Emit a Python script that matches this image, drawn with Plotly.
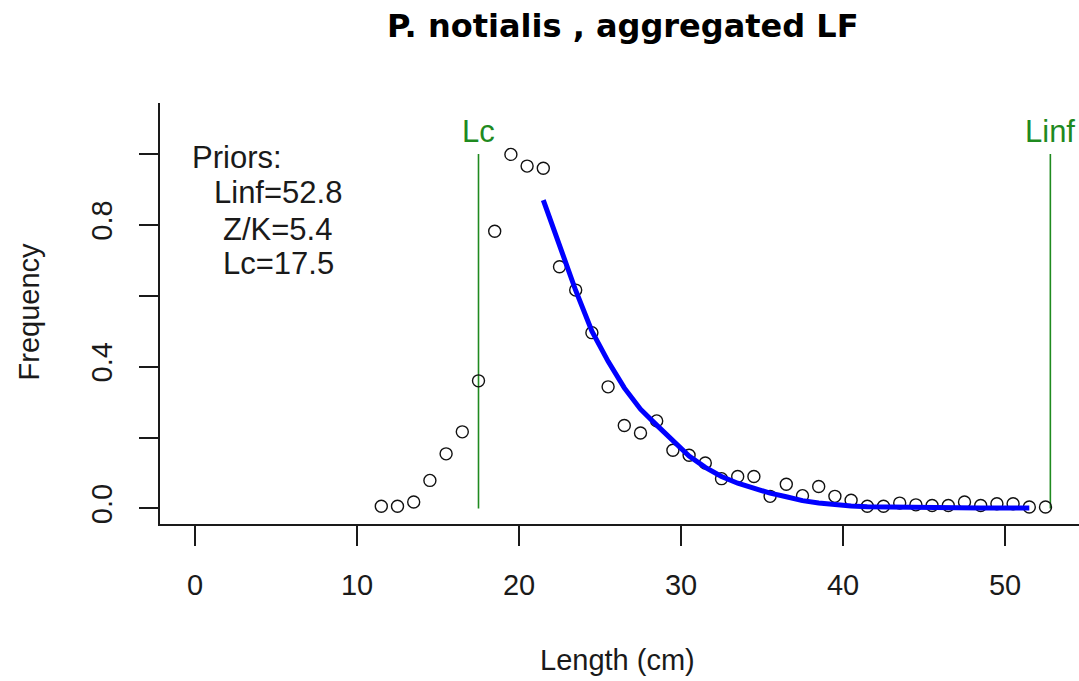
import plotly.graph_objects as go

# ---- data ----
length_mid = [11.5, 12.5, 13.5, 14.5, 15.5, 16.5, 17.5, 18.5, 19.5, 20.5,
              21.5, 22.5, 23.5, 24.5, 25.5, 26.5, 27.5, 28.5, 29.5, 30.5,
              31.5, 32.5, 33.5, 34.5, 35.5, 36.5, 37.5, 38.5, 39.5, 40.5,
              41.5, 42.5, 43.5, 44.5, 45.5, 46.5, 47.5, 48.5, 49.5, 50.5,
              51.5, 52.5]
frequency = [0.006, 0.006, 0.018, 0.079, 0.154, 0.216, 0.360, 0.782, 0.999, 0.966,
             0.960, 0.682, 0.616, 0.496, 0.343, 0.234, 0.213, 0.247, 0.164, 0.150,
             0.128, 0.084, 0.090, 0.090, 0.034, 0.068, 0.036, 0.062, 0.034, 0.023,
             0.006, 0.006, 0.015, 0.010, 0.008, 0.008, 0.018, 0.008, 0.013, 0.013,
             0.004, 0.004]

fit_length = [21.5, 22.5, 23.5, 24.5, 25.5, 26.5, 27.5, 28.5, 29.5, 30.5,
              31.5, 32.5, 33.5, 34.5, 35.5, 36.5, 37.5, 38.5, 39.5, 40.5,
              41.5, 42.5, 43.5, 44.5, 45.5, 46.5, 47.5, 48.5, 49.5, 50.5, 51.5]
fit_freq = [0.870, 0.740, 0.615, 0.500, 0.415, 0.340, 0.280, 0.235, 0.190, 0.148,
            0.116, 0.090, 0.071, 0.056, 0.043, 0.033, 0.022, 0.015, 0.010, 0.007,
            0.005, 0.004, 0.003, 0.002, 0.002, 0.002, 0.001, 0.001, 0.001, 0.001, 0.001]

Linf = 52.8
ZK = 5.4
Lc = 17.5
ref_line_y = [0, 1.0]

x_ticks = [0, 10, 20, 30, 40, 50]
y_ticks = [0, 0.2, 0.4, 0.6, 0.8, 1.0]
y_tick_text = ["0.0", "", "0.4", "", "0.8", ""]

# ---- layout geometry ----
W, H = 1079, 681
ML, MR, MT, MB = 160, 0, 103, 157
FONT = "Liberation Sans, Arial, sans-serif"
GREEN = "#1f8a1f"
INK = "#1a1a1a"


def px_x(px):
    return (px - ML) / (W - ML - MR)


def px_y(py):
    return (H - MB - py) / (H - MT - MB)


fig = go.Figure()

fig.add_trace(go.Scatter(x=[Lc, Lc], y=ref_line_y, mode="lines",
                         line=dict(color=GREEN, width=1.6), showlegend=False))
fig.add_trace(go.Scatter(x=[Linf, Linf], y=ref_line_y, mode="lines",
                         line=dict(color=GREEN, width=1.6), showlegend=False))
fig.add_trace(go.Scatter(x=length_mid, y=frequency, mode="markers",
                         marker=dict(symbol="circle-open", size=12, color="#111111",
                                     line=dict(width=1.4, color="#111111")),
                         showlegend=False))
fig.add_trace(go.Scatter(x=fit_length, y=fit_freq, mode="lines",
                         line=dict(color="#0000ff", width=5), showlegend=False))

ann = []
ann.append(dict(text="<b>P. notialis , aggregated LF</b>", x=px_x(622.7), y=px_y(26),
                xref="paper", yref="paper", showarrow=False,
                font=dict(family="DejaVu Sans, sans-serif", size=32, color="#000000"),
                xanchor="center", yanchor="middle"))
ann.append(dict(text="Frequency", x=px_x(28.7), y=px_y(311.7), xref="paper", yref="paper",
                showarrow=False, textangle=-90, font=dict(family=FONT, size=29, color=INK),
                xanchor="center", yanchor="middle"))
ann.append(dict(text="Length (cm)", x=px_x(617), y=px_y(660), xref="paper", yref="paper",
                showarrow=False, font=dict(family=FONT, size=29, color=INK),
                xanchor="center", yanchor="middle"))
ann.append(dict(text="Lc", x=Lc, y=px_y(131), xref="x", yref="paper", showarrow=False,
                font=dict(family=FONT, size=31, color=GREEN), xanchor="center", yanchor="middle"))
ann.append(dict(text="Linf", x=Linf, y=px_y(131), xref="x", yref="paper", showarrow=False,
                font=dict(family=FONT, size=31, color=GREEN), xanchor="center", yanchor="middle"))
for txt, cx, cy in [("Priors:", 236.7, 157), (f"Linf={Linf}", 278, 192.5),
                    (f"Z/K={ZK}", 277, 229), (f"Lc={Lc}", 278, 263)]:
    ann.append(dict(text=txt, x=px_x(cx), y=px_y(cy), xref="paper", yref="paper",
                    showarrow=False, font=dict(family=FONT, size=31, color=INK),
                    xanchor="center", yanchor="middle"))

fig.update_layout(
    width=W, height=H,
    margin=dict(l=ML, r=MR, t=MT, b=MB, pad=0),
    paper_bgcolor="white", plot_bgcolor="white",
    font=dict(family=FONT, size=29, color=INK),
    annotations=ann,
    showlegend=False,
    xaxis=dict(range=[-(195 - ML) / 16.2, (W - 195) / 16.2], tickvals=x_ticks,
               ticks="outside", ticklen=20, tickwidth=1.5, tickcolor=INK,
               showline=True, linecolor=INK, linewidth=1.5,
               showgrid=False, zeroline=False, ticklabelstandoff=14,
               tickfont=dict(family=FONT, size=29, color=INK)),
    yaxis=dict(range=[-0.044, 1.144], tickvals=y_ticks, ticktext=y_tick_text,
               ticks="outside", ticklen=19, tickwidth=1.5, tickcolor=INK,
               showline=True, linecolor=INK, linewidth=1.5,
               showgrid=False, zeroline=False, tickangle=-90, ticklabelstandoff=16,
               tickfont=dict(family=FONT, size=29, color=INK)),
)

fig.write_html("out.html")
